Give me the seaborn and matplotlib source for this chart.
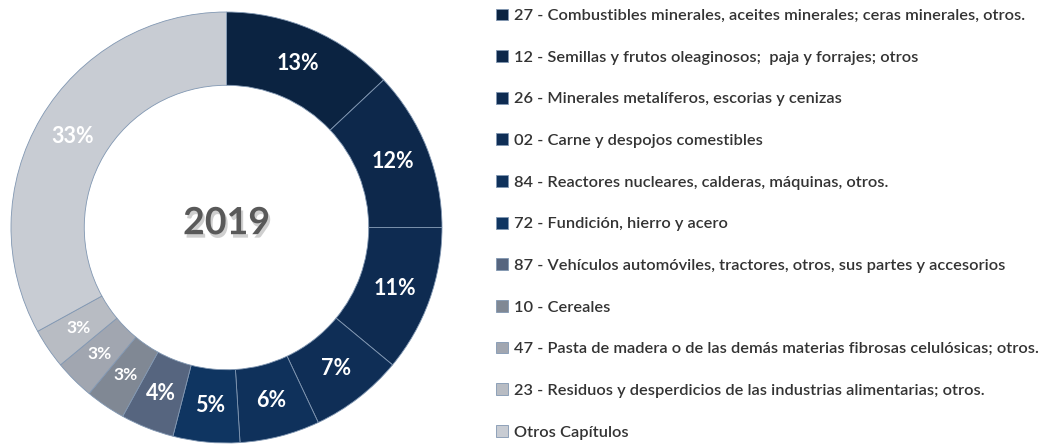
import matplotlib
matplotlib.use('Agg')
import matplotlib.pyplot as plt
import matplotlib.patheffects as pe
import seaborn as sns

# Data
capitulos = [
    '27 - Combustibles minerales, aceites minerales; ceras minerales, otros.',
    '12 - Semillas y frutos oleaginosos;  paja y forrajes; otros',
    '26 - Minerales metalíferos, escorias y cenizas',
    '02 - Carne y despojos comestibles',
    '84 - Reactores nucleares, calderas, máquinas, otros.',
    '72 - Fundición, hierro y acero',
    '87 - Vehículos automóviles, tractores, otros, sus partes y accesorios',
    '10 - Cereales',
    '47 - Pasta de madera o de las demás materias fibrosas celulósicas; otros.',
    '23 - Residuos y desperdicios de las industrias alimentarias; otros.',
    'Otros Capítulos',
]
participacion = [13, 12, 11, 7, 6, 5, 4, 3, 3, 3, 33]
anio = '2019'

colores = ['#0b2341', '#0d284b', '#0e2b51', '#0f2e56', '#0f315b', '#0f3561',
           '#56657f', '#808894', '#a1a6b0', '#b8bcc3', '#c8ccd3']

sns.set_theme(style='white')
plt.rcParams['font.family'] = ['Lato', 'DejaVu Sans']

fig = plt.figure(figsize=(10.54, 4.44), dpi=100)
ax = fig.add_axes([11 / 1054, 1 / 444, 431 / 1054, 431 / 444])

wedges, texts, autotexts = ax.pie(
    participacion, colors=colores, startangle=90, counterclock=False,
    autopct='%1.0f%%', pctdistance=0.83,
    wedgeprops=dict(width=0.34, edgecolor='#8197b2', linewidth=0.6),
    textprops=dict(color='white', fontsize=15.5, fontweight='bold'),
)
for t, v in zip(autotexts, participacion):
    if v <= 3:
        t.set_fontsize(12.5)
ax.set_xlim(-1, 1)
ax.set_ylim(-1, 1)
ax.set_aspect('equal')

ax.text(0, 0.02, anio, ha='center', va='center', fontsize=27, fontweight='bold',
        color='#595959',
        path_effects=[pe.SimplePatchShadow(offset=(1.5, -2.5), shadow_rgbFace='#888888', alpha=0.4),
                      pe.Normal()])

fig.legend(wedges, capitulos, loc='upper left', bbox_to_anchor=(489 / 1054, 1.0 - 2 / 444),
           frameon=False, handlelength=0.74, handleheight=0.74,
           handletextpad=0.38, labelspacing=1.645, borderaxespad=0,
           labelcolor='#333333', prop=dict(size=11.8, weight='semibold'))

fig.savefig('out.png', dpi=100)
